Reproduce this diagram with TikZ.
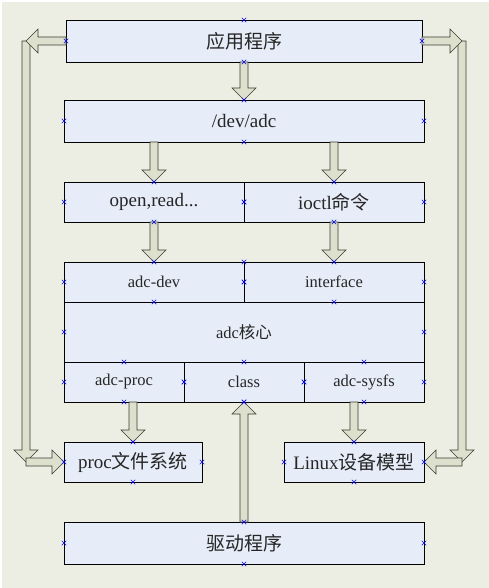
\documentclass[tikz,border=0pt]{standalone}
\usepackage{fontspec}
\setmainfont{Liberation Serif}
\newfontfamily\cjk{Noto Sans CJK SC}
\usetikzlibrary{positioning,calc,shapes.misc}

\definecolor{boxfill}{RGB}{230,236,248}
\definecolor{arrowfill}{RGB}{220,224,204}
\definecolor{arrowline}{RGB}{60,60,50}
\definecolor{bgfill}{RGB}{237,238,227}

\begin{document}
\begin{tikzpicture}[
  x=1pt, y=-1pt,
  node distance=40pt,
  font=\fontsize{19}{22}\selectfont,
  box/.style={
    draw,
    fill=boxfill,
    text=black!85,
    line width=.8pt,
    minimum height=40pt,
    inner sep=0,
    outer sep=0
  },
  tall/.style={box, minimum height=42pt},
  rowtext/.style={font=\fontsize{16.5}{19}\selectfont},
  anchormark/.style={cross out, draw=blue, line width=.5pt, minimum size=4pt, inner sep=0},
  fatarrow/.style={
    draw=arrowline,
    fill=arrowfill,
    line width=.6pt,
    to path={let \p1=(\tikztostart), \p2=(\tikztotarget), \p3=($(\p2)!12pt!(\p1)$) in
      ($(\p1)!4pt!90:(\p2)$) -- ($(\p3)!4pt!90:(\p2)$) -- ($(\p3)!12pt!90:(\p2)$) -- (\p2)
      -- ($(\p3)!12pt!-90:(\p2)$) -- ($(\p3)!4pt!-90:(\p2)$) -- ($(\p1)!4pt!-90:(\p2)$) -- cycle}
  }
  ]

  \useasboundingbox (0,0) rectangle (489,588);
  \fill[white] (0,0) rectangle (489,588);
  \fill[bgfill] (2,2) rectangle (489,588);

  \node [tall, minimum width=356pt] (app) at (244,41) {\cjk 应用程序};
  \node [tall, minimum width=360pt, below=38pt of app] (dev) {/dev/adc};

  \node [box, minimum width=180pt, below=of dev.south west, anchor=north west] (open) {open,read...};
  \node [box, minimum width=180pt, right=0pt of open] (ioctl) {ioctl{\cjk 命令}};

  \node [box, rowtext, minimum width=360pt, minimum height=140pt, below=of open.south west, anchor=north west] (core) {adc{\cjk 核心}};
  \node [box, rowtext, minimum width=180pt, anchor=north west] (adcdev) at (core.north west) {adc-dev};
  \node [box, rowtext, minimum width=180pt, right=0pt of adcdev] (iface) {interface};
  \node [box, rowtext, minimum width=120pt, anchor=south west] (aproc) at (core.south west) {adc-proc};
  \node [box, rowtext, minimum width=120pt, right=0pt of aproc] (class) {class};
  \node [box, rowtext, minimum width=120pt, right=0pt of class] (sysfs) {adc-sysfs};

  \node [box, minimum width=138pt, below=of core.south west, anchor=north west] (proc) {proc{\cjk 文件系统}};
  \node [box, minimum width=140pt, below=of core.south east, anchor=north east] (linux) {Linux{\cjk 设备模型}};

  \node [tall, minimum width=360pt, below=of proc.south west, anchor=north west] (driver) {\cjk 驱动程序};

  % side paths
  \coordinate (lt) at ([xshift=-40pt]app.west);
  \coordinate (lb) at (lt |- proc.west);
  \coordinate (rt) at ([xshift=40pt]app.east);
  \coordinate (rb) at (rt |- linux.east);

  \path[fatarrow] (lt) to (lb);
  \path[fatarrow] (app.west) to (lt);
  \path[fatarrow] (lb) to (proc.west);
  \path[fatarrow] (rt) to (rb);
  \path[fatarrow] (app.east) to (rt);
  \path[fatarrow] (rb) to (linux.east);

  % main column
  \path[fatarrow] (app.south) to (dev.north);
  \path[fatarrow] (open.north |- dev.south) to (open.north);
  \path[fatarrow] (ioctl.north |- dev.south) to (ioctl.north);
  \path[fatarrow] (open.south) to (adcdev.north);
  \path[fatarrow] (ioctl.south) to (iface.north);
  \path[fatarrow] (proc.north |- aproc.south) to (proc.north);
  \path[fatarrow] (linux.north |- sysfs.south) to (linux.north);
  \path[fatarrow] (driver.north) to (class.south);

  \foreach \n in {app,dev,open,ioctl,core,adcdev,iface,aproc,class,sysfs,proc,linux,driver}
    \foreach \a in {north,south,east,west}
      \node [anchormark] at (\n.\a) {};

\end{tikzpicture}
\end{document}
